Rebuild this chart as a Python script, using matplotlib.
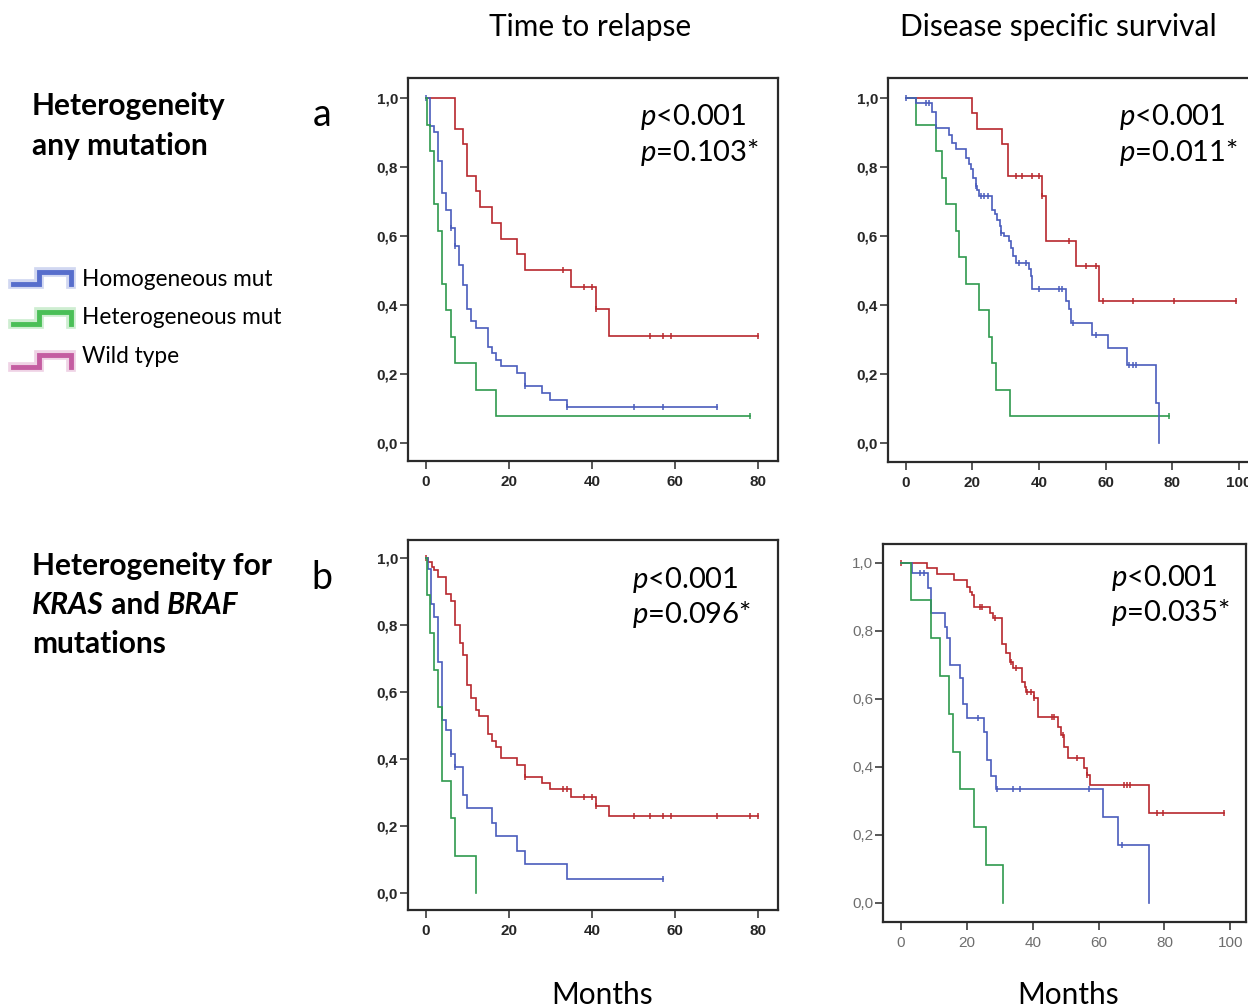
import matplotlib
matplotlib.use("Agg")
import matplotlib.pyplot as plt
from matplotlib.lines import Line2D
from matplotlib.ticker import FuncFormatter
import numpy as np

W, H = 1248, 1008
RED = '#b8282d'
BLUE = '#4a5cbc'
GREEN = '#2f9a4e'

# Kaplan-Meier curves:
# *_t = event times (months), *_s = survival after the event, *_c = censor times

# a) heterogeneity any mutation - time to relapse
a_ttr_wt_t = [7, 9, 10, 12, 13, 16, 18, 22, 24, 35, 41, 44]
a_ttr_wt_s = [0.912, 0.866, 0.774, 0.731, 0.685, 0.639, 0.592, 0.549, 0.501, 0.453, 0.389, 0.309]
a_ttr_wt_c = [33, 38, 40, 41, 54, 57, 59, 80]
a_ttr_homo_t = [1, 2, 3, 4, 5, 6, 7, 8, 9, 10, 11, 12, 15, 16, 17, 18, 22, 24, 28, 30, 34]
a_ttr_homo_s = [0.919, 0.902, 0.818, 0.726, 0.677, 0.624, 0.571, 0.515, 0.459, 0.387, 0.353,
                0.333, 0.278, 0.261, 0.241, 0.224, 0.203, 0.166, 0.145, 0.125, 0.104]
a_ttr_homo_c = [0, 6, 7, 24, 34, 50, 57, 70]
a_ttr_het_t = [0.2, 1, 2, 3, 4, 5, 6, 7, 12, 17]
a_ttr_het_s = [0.923, 0.846, 0.692, 0.615, 0.462, 0.385, 0.308, 0.231, 0.154, 0.077]
a_ttr_het_c = [78]

# a) disease specific survival
a_dss_wt_t = [20, 21.5, 28.8, 30.8, 40.8, 42.2, 51.1, 58.1]
a_dss_wt_s = [0.956, 0.91, 0.866, 0.774, 0.716, 0.585, 0.513, 0.411]
a_dss_wt_c = [33, 35, 38, 40, 40.8, 49.1, 54.1, 57.1, 59.1, 68.1, 80.6, 99]
a_dss_homo_t = [3, 8, 9, 13, 14, 15, 18, 19, 19.5, 20.3, 21, 21.3, 22, 26, 26.8, 27.5, 28.3,
                28.7, 29.5, 31, 31.5, 32.3, 33, 37, 37.5, 38, 48, 49, 49.6, 56, 60.6, 66.3,
                75.1, 76.1]
a_dss_homo_s = [0.987, 0.96, 0.913, 0.894, 0.87, 0.852, 0.828, 0.808, 0.794, 0.769, 0.745,
                0.735, 0.716, 0.677, 0.663, 0.648, 0.629, 0.610, 0.600, 0.585, 0.566, 0.542,
                0.522, 0.503, 0.483, 0.445, 0.411, 0.387, 0.348, 0.314, 0.275, 0.227, 0.115, 0.0]
a_dss_homo_c = [0, 6, 7, 21, 22.7, 23.5, 24.7, 28.7, 34, 36, 40, 46, 47, 50.1, 57, 67.1, 68.1, 69.1]
a_dss_het_t = [3, 9, 11, 12, 15, 16, 18, 22, 25, 26, 27, 31.3]
a_dss_het_s = [0.923, 0.846, 0.769, 0.692, 0.615, 0.538, 0.462, 0.385, 0.308, 0.231, 0.154, 0.077]
a_dss_het_c = [79]

# b) heterogeneity for KRAS and BRAF - time to relapse
b_ttr_wt_t = [0.6, 1.4, 2, 3, 4.9, 6.1, 7, 8.3, 9, 10, 11, 12, 12.8, 14.9, 15.9, 16.9, 18, 22,
              24, 28, 30, 35, 41, 44]
b_ttr_wt_s = [0.99, 0.975, 0.965, 0.945, 0.892, 0.872, 0.80, 0.746, 0.711, 0.621, 0.581, 0.546,
              0.529, 0.475, 0.455, 0.437, 0.402, 0.382, 0.347, 0.327, 0.309, 0.287, 0.26, 0.23]
b_ttr_wt_c = [0, 24, 33, 34, 38, 40, 41, 50, 54, 57, 59, 70, 78, 80]
b_ttr_homo_t = [0.5, 1.2, 2, 3, 4, 5, 6, 7, 9, 10, 16, 17, 22, 24, 34]
b_ttr_homo_s = [0.967, 0.864, 0.826, 0.691, 0.516, 0.487, 0.415, 0.377, 0.292, 0.252, 0.207,
                0.169, 0.125, 0.085, 0.041]
b_ttr_homo_c = [6, 7, 57]
b_ttr_het_t = [0.2, 1, 2, 3, 4, 6, 7, 12]
b_ttr_het_s = [0.889, 0.778, 0.667, 0.556, 0.333, 0.222, 0.111, 0.0]
b_ttr_het_c = []

# b) disease specific survival
b_dss_wt_t = [8, 11, 16, 20, 21, 21.5, 22, 27, 28, 30.8, 32, 33, 34, 36.7, 37.5, 38, 40.5, 41.7,
              47.6, 48.6, 49.6, 50.8, 55.5, 56.5, 57.5, 75.2]
b_dss_wt_s = [0.983, 0.967, 0.949, 0.929, 0.915, 0.905, 0.87, 0.853, 0.836, 0.76, 0.733, 0.709,
              0.689, 0.65, 0.635, 0.621, 0.601, 0.547, 0.518, 0.493, 0.459, 0.425, 0.395, 0.376,
              0.346, 0.263]
b_dss_wt_c = [0, 24, 24.7, 28.6, 33.4, 34.8, 38.2, 39.5, 40.5, 45.7, 46.5, 49.1, 53.5, 56.5,
              67.6, 68.6, 69.6, 77.7, 79.7, 98]
b_dss_homo_t = [3.2, 8.1, 9.1, 13.2, 13.9, 14.9, 17.9, 18.9, 20, 25.2, 26.2, 27.3, 28.9, 61.2,
                65.9, 75.2]
b_dss_homo_s = [0.969, 0.927, 0.853, 0.812, 0.777, 0.699, 0.66, 0.584, 0.542, 0.503, 0.42, 0.373,
                0.333, 0.251, 0.17, 0.0]
b_dss_homo_c = [5.8, 7, 23.3, 29, 34, 36, 57, 67.1]
b_dss_het_t = [3, 9.1, 11.9, 14.7, 15.7, 17.9, 22.2, 25.8, 31.1]
b_dss_het_s = [0.889, 0.778, 0.667, 0.556, 0.444, 0.333, 0.222, 0.111, 0.0]
b_dss_het_c = []

p_overall = ["$p$<0.001", "$p$<0.001", "$p$<0.001", "$p$<0.001"]
p_star = ["$p$=0.103*", "$p$=0.011*", "$p$=0.096*", "$p$=0.035*"]
legend_labels = ["Homogeneous mut", "Heterogeneous mut", "Wild type"]

plt.rcParams['mathtext.fontset'] = 'custom'
plt.rcParams['mathtext.it'] = 'Lato:italic'
plt.rcParams['mathtext.rm'] = 'Lato'


def km(ax, t, s, c, color):
    tt = np.array([0.0] + list(t))
    ss = np.array([1.0] + list(s))
    end = max([tt[-1]] + list(c))
    x = np.append(tt, end)
    y = np.append(ss, ss[-1])
    ax.step(x, y, where='post', color=color, lw=1.2, solid_joinstyle='miter')
    if len(c):
        idx = np.searchsorted(tt, c, side='right') - 1
        ax.plot(c, ss[idx], ls='none', marker='|', ms=4.5, mew=1.1, color=color)


def fx(px):
    return px / W


def fy(py):
    return 1 - py / H


comma = FuncFormatter(lambda v, p: f"{v:.1f}".replace('.', ','))


def make_axes(rect, xlim, ylim, xticks, light=False):
    ax = fig.add_axes(rect)
    ax.set_xlim(*xlim)
    ax.set_ylim(*ylim)
    ax.set_xticks(xticks)
    ax.set_yticks([0, 0.2, 0.4, 0.6, 0.8, 1.0])
    ax.yaxis.set_major_formatter(comma)
    for sp in ax.spines.values():
        sp.set_linewidth(1.6)
        sp.set_color('#2a2a2a')
    ax.tick_params(direction='out', length=6, width=1.1, color='#2a2a2a',
                   top=False, right=False)
    ax.tick_params(axis='y', pad=1)
    ax.tick_params(axis='x', pad=4)
    for lab in ax.get_xticklabels() + ax.get_yticklabels():
        lab.set_family('Liberation Sans')
        lab.set_fontsize(11)
        if light:
            lab.set_color('#6e6e6e')
        else:
            lab.set_color('#262626')
            lab.set_fontweight('bold')
    return ax


fig = plt.figure(figsize=(W / 100, H / 100), dpi=100)

ax1 = make_axes([fx(407.7), fy(460.7), fx(370), 382.4 / H], (-4.33, 84.66), (-0.052, 1.058),
                [0, 20, 40, 60, 80])
ax2 = make_axes([fx(887.7), fy(461.7), fx(370), 383.4 / H], (-5.4, 105.6), (-0.055, 1.058),
                [0, 20, 40, 60, 80, 100])
ax3 = make_axes([fx(407.7), fy(910), fx(370), 370 / H], (-4.33, 84.66), (-0.052, 1.055),
                [0, 20, 40, 60, 80])
ax4 = make_axes([fx(883), fy(922), fx(363), 378 / H], (-5.5, 104.8), (-0.057, 1.055),
                [0, 20, 40, 60, 80, 100], light=True)

km(ax1, a_ttr_wt_t, a_ttr_wt_s, a_ttr_wt_c, RED)
km(ax1, a_ttr_homo_t, a_ttr_homo_s, a_ttr_homo_c, BLUE)
km(ax1, a_ttr_het_t, a_ttr_het_s, a_ttr_het_c, GREEN)
km(ax2, a_dss_wt_t, a_dss_wt_s, a_dss_wt_c, RED)
km(ax2, a_dss_het_t, a_dss_het_s, a_dss_het_c, GREEN)
km(ax2, a_dss_homo_t, a_dss_homo_s, a_dss_homo_c, BLUE)
km(ax3, b_ttr_wt_t, b_ttr_wt_s, b_ttr_wt_c, RED)
km(ax3, b_ttr_homo_t, b_ttr_homo_s, b_ttr_homo_c, BLUE)
km(ax3, b_ttr_het_t, b_ttr_het_s, b_ttr_het_c, GREEN)
km(ax4, b_dss_wt_t, b_dss_wt_s, b_dss_wt_c, RED)
km(ax4, b_dss_homo_t, b_dss_homo_s, b_dss_homo_c, BLUE)
km(ax4, b_dss_het_t, b_dss_het_s, b_dss_het_c, GREEN)

# p-values inside each panel
p_pos = [(640, 117), (1119, 117), (632, 580), (1111, 578)]
for (px, py), p1, p2 in zip(p_pos, p_overall, p_star):
    fig.text(fx(px), fy(py), p1, fontsize=21, family='Lato', ha='left', va='center')
    fig.text(fx(px), fy(py + 35), p2, fontsize=21, family='Lato', ha='left', va='center')

# column titles and axis labels
fig.text(fx(590), fy(27), "Time to relapse", fontsize=21.5, family='Lato',
         ha='center', va='center')
fig.text(fx(1058), fy(27), "Disease specific survival", fontsize=21.5, family='Lato',
         ha='center', va='center')
fig.text(fx(602), fy(995), "Months", fontsize=21.5, family='Lato', ha='center', va='center')
fig.text(fx(1068), fy(995), "Months", fontsize=21.5, family='Lato', ha='center', va='center')

# row labels
fig.text(fx(32), fy(106), "Heterogeneity", fontsize=21.5, family='Lato',
         fontweight='bold', ha='left', va='center')
fig.text(fx(32), fy(146), "any mutation", fontsize=21.5, family='Lato',
         fontweight='bold', ha='left', va='center')
fig.text(fx(322), fy(115), "a", fontsize=27, family='Lato', ha='center', va='center')
fig.text(fx(322), fy(578), "b", fontsize=27, family='Lato', ha='center', va='center')
fig.text(fx(32), fy(566), "Heterogeneity for", fontsize=21.5, family='Lato', fontweight='bold',
         ha='left', va='center')
fig.text(fx(32), fy(644), "mutations", fontsize=21.5, family='Lato', fontweight='bold',
         ha='left', va='center')

# mixed bold / bold-italic middle line
renderer = fig.canvas.get_renderer()
xpos = fx(32)
for part, style in [("KRAS", 'italic'), (" and ", 'normal'), ("BRAF", 'italic')]:
    t = fig.text(xpos, fy(605), part, fontsize=21.5, family='Lato', fontweight='bold',
                 fontstyle=style, ha='left', va='center')
    bb = t.get_window_extent(renderer=renderer)
    xpos += bb.width / W

# legend with step icons
icon_colors = ['#4a63c8', '#3cba4a', '#c0509a']
icon_y = [278, 318, 361]
label_y = [279, 317, 356]
for col, iy, ly, lab in zip(icon_colors, icon_y, label_y, legend_labels):
    xs = [fx(13), fx(39), fx(39), fx(71), fx(71)]
    ys = [fy(iy + 6), fy(iy + 6), fy(iy - 6), fy(iy - 6), fy(iy + 6)]
    fig.add_artist(Line2D(xs, ys, color=col, lw=7, alpha=0.25, solid_joinstyle='miter'))
    fig.add_artist(Line2D(xs, ys, color=col, lw=3.5, alpha=0.9, solid_joinstyle='miter'))
    fig.text(fx(82), fy(ly), lab, fontsize=16.3, family='Lato', ha='left', va='center')

fig.savefig("out.png", dpi=100)
